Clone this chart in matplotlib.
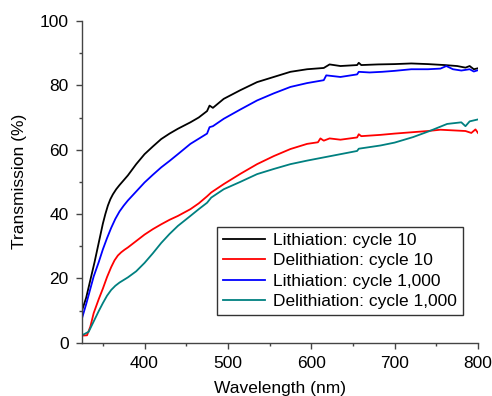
#!/usr/bin/env python3
"""Transmission spectra for lithiation / delithiation at cycle 10 and cycle 1,000."""
import matplotlib
matplotlib.use('Agg')
import matplotlib.pyplot as plt

# Lithiation: cycle 10
WL_LI10 = [325, 330, 336, 340, 345, 350, 353, 356, 359, 362, 366, 370, 375, 380, 390, 400,
           410, 420, 430, 440, 455, 465, 475, 478, 482, 495, 515, 535, 555, 575,
           595, 615, 622, 635, 655, 657, 660, 680, 700, 720, 740, 760, 775, 785,
           790, 795, 800]
T_LI10 = [10, 14, 20.6, 25, 31, 37, 40, 42.6, 44.6, 46.1, 47.7, 49, 50.5, 52, 55.5, 58.6,
          61, 63.3, 65, 66.5, 68.5, 70, 72, 73.7, 73, 75.8, 78.5, 81, 82.6, 84.2,
          85, 85.4, 86.5, 86, 86.3, 87, 86.3, 86.5, 86.6, 86.8, 86.6, 86.3, 86,
          85.5, 86, 85, 85.3]

# Delithiation: cycle 10
WL_DE10 = [325, 331, 335, 339, 345, 350, 355, 360, 364, 368, 372, 376, 380, 390, 400,
           410, 420, 430, 440, 455, 465, 475, 480, 495, 515, 535, 555, 575, 595,
           608, 611, 615, 622, 635, 655, 657, 660, 683, 700, 720, 740, 755, 770,
           785, 792, 797, 800]
T_DE10 = [2.2, 2.3, 5, 9.2, 13.5, 16.8, 20.4, 23.5, 25.6, 27.1, 28.1, 28.9, 29.6, 31.6, 33.6,
          35.3, 36.8, 38.2, 39.4, 41.5, 43.3, 45.5, 46.7, 49.3, 52.5, 55.5, 58, 60.2, 61.8,
          62.3, 63.5, 62.8, 63.5, 63.1, 63.8, 64.8, 64.2, 64.6, 65, 65.4, 65.8, 66.2, 66,
          65.8, 65.2, 66.3, 65.2]

# Lithiation: cycle 1,000
WL_LI1000 = [325, 330, 339, 345, 350, 355, 360, 365, 370, 375, 380, 390, 400, 410,
             420, 430, 440, 455, 465, 475, 478, 482, 495, 515, 535, 555, 575, 595,
             615, 618, 635, 655, 657, 670, 685, 700, 720, 740, 755, 762, 770, 780,
             790, 795, 800]
T_LI1000 = [7.6, 12, 20.6, 25, 29, 32.5, 35.7, 38.5, 40.8, 42.6, 44.2, 47, 49.8, 52.2,
            54.5, 56.5, 58.6, 61.8, 63.4, 65, 67, 67.3, 69.6, 72.5, 75.3, 77.5, 79.5, 80.7,
            81.6, 83.1, 82.6, 83.4, 84.2, 84, 84.2, 84.5, 85, 85, 85.2, 86, 85, 84.6,
            85, 84.3, 84.7]

# Delithiation: cycle 1,000
WL_DE1000 = [325, 333, 339, 345, 350, 355, 360, 365, 370, 375, 380, 390, 400, 410,
             420, 430, 440, 455, 465, 475, 480, 495, 515, 535, 555, 575, 595, 615,
             635, 655, 657, 683, 700, 722, 742, 763, 780, 785, 790, 800]
T_DE1000 = [2.3, 3.4, 6.6, 9.8, 12.3, 14.6, 16.4, 17.7, 18.7, 19.5, 20.3, 22.2, 24.8, 27.8,
            31, 33.8, 36.3, 39.4, 41.5, 43.5, 45.1, 47.7, 50, 52.4, 54, 55.5, 56.6, 57.6,
            58.6, 59.6, 60.3, 61.3, 62.2, 63.9, 65.8, 68, 68.5, 67.3, 68.8, 69.4]

SERIES = [
    ('Lithiation: cycle 10', WL_LI10, T_LI10, 'black'),
    ('Delithiation: cycle 10', WL_DE10, T_DE10, '#ff0000'),
    ('Lithiation: cycle 1,000', WL_LI1000, T_LI1000, '#0000ff'),
    ('Delithiation: cycle 1,000', WL_DE1000, T_DE1000, '#008080'),
]


def main():
    plt.rcParams['font.family'] = ['Liberation Sans', 'DejaVu Sans']
    plt.rcParams['font.size'] = 12

    fig = plt.figure(figsize=(4.92, 3.96), dpi=100)
    ax = fig.add_axes([0.1667, 0.1346, 0.8048, 0.8124])

    for label, wl, t, col in SERIES:
        ax.plot(wl, t, color=col, lw=1.3, label=label)

    ax.set_xlim(325, 800)
    ax.set_ylim(0, 100)
    ax.set_xticks([400, 500, 600, 700, 800])
    ax.set_xticks([350, 450, 550, 650, 750], minor=True)
    ax.set_yticks([0, 20, 40, 60, 80, 100])
    ax.set_yticks([10, 30, 50, 70, 90], minor=True)

    for s in ['top', 'right']:
        ax.spines[s].set_visible(False)
    for s in ['left', 'bottom']:
        ax.spines[s].set_color('#444444')
        ax.spines[s].set_linewidth(1.0)
    ax.tick_params(which='major', direction='out', length=4.5, width=1.0,
                   color='#444444', pad=5, labelsize=12.5)
    ax.tick_params(which='minor', direction='out', length=2.5, width=1.0,
                   color='#444444')

    ax.set_xlabel('Wavelength (nm)', fontsize=12.5, labelpad=7)
    ax.set_ylabel('Transmission (%)', fontsize=12.5, labelpad=9)

    leg = ax.legend(loc='lower left', bbox_to_anchor=(0.341, 0.086),
                    borderaxespad=0, fancybox=False, framealpha=1,
                    edgecolor='#333333', handlelength=2.4, handletextpad=0.5,
                    labelspacing=0.3, borderpad=0.35, fontsize=12.5)
    leg.get_frame().set_linewidth(1.0)

    fig.savefig('out.png', dpi=100)


if __name__ == '__main__':
    main()
